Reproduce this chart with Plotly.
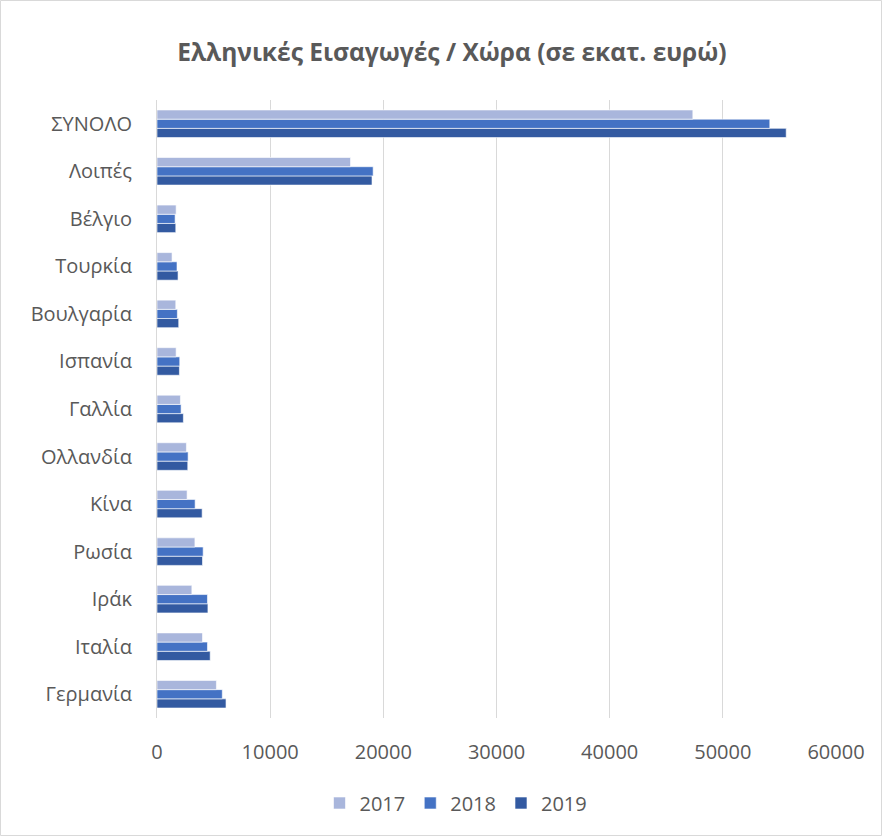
import plotly.graph_objects as go

# categories listed bottom -> top as drawn
countries = ["Γερμανία", "Ιταλία", "Ιράκ", "Ρωσία", "Κίνα", "Ολλανδία", "Γαλλία",
             "Ισπανία", "Βουλγαρία", "Τουρκία", "Βέλγιο", "Λοιπές", "ΣΥΝΟΛΟ"]
imports_2017 = [5250, 4020, 3080, 3350, 2660, 2600, 2070, 1690, 1660, 1330, 1690, 17100, 47350]
imports_2018 = [5770, 4460, 4460, 4080, 3370, 2750, 2130, 2010, 1800, 1770, 1600, 19100, 54150]
imports_2019 = [6100, 4700, 4500, 4020, 3990, 2720, 2330, 1980, 1920, 1860, 1660, 19000, 55600]

GREY = "#595959"
FONT = "Open Sans, Noto Sans, sans-serif"

fig = go.Figure()
# added 2019 first so 2017 sits on top in each group
for name, vals, color in [("2019", imports_2019, "#335AA1"),
                          ("2018", imports_2018, "#4472C4"),
                          ("2017", imports_2017, "#A9B6DC")]:
    fig.add_trace(go.Bar(
        y=countries, x=vals, name=name, orientation="h",
        marker=dict(color=color, line=dict(color="white", width=0.6)),
    ))

L, R, T, B = 157, 46, 100, 118
pw, ph = 882 - L - R, 836 - T - B

fig.update_layout(
    width=882, height=836,
    barmode="group", bargap=0.42, bargroupgap=0,
    paper_bgcolor="white", plot_bgcolor="white",
    margin=dict(l=L, r=R, t=T, b=B),
    font=dict(family=FONT, color=GREY, size=20),
    title=dict(text="<b>Ελληνικές Εισαγωγές / Χώρα (σε εκατ. ευρώ)</b>",
               x=452 / 882, xref="container", xanchor="center",
               y=1 - 52 / 836, yanchor="middle",
               font=dict(size=24.5, color=GREY, family=FONT)),
    legend=dict(orientation="h", x=(456 - L) / pw, xanchor="center",
                y=-(803 - 718) / ph, yanchor="middle",
                traceorder="reversed", font=dict(size=20, color=GREY)),
    shapes=[dict(type="rect", xref="paper", yref="paper",
                 x0=(0.5 - L) / pw, x1=(881.5 - L) / pw,
                 y0=(718 - 835.5) / ph, y1=(718 - 0.5) / ph,
                 line=dict(color="#D9D9D9", width=1))],
)
fig.update_xaxes(range=[0, 60000], dtick=10000, tickformat="d", showgrid=True,
                 gridcolor="#D9D9D9", gridwidth=1, zeroline=False, showline=False,
                 ticks="", ticklabelstandoff=20, tickfont=dict(size=20, color=GREY))
fig.update_yaxes(showline=True, linecolor="#D9D9D9", linewidth=1, ticks="",
                 ticklabelstandoff=20, tickfont=dict(size=20, color=GREY))

fig.write_html("out.html", config={"displayModeBar": False},
               post_script="document.body.style.margin='0';")
